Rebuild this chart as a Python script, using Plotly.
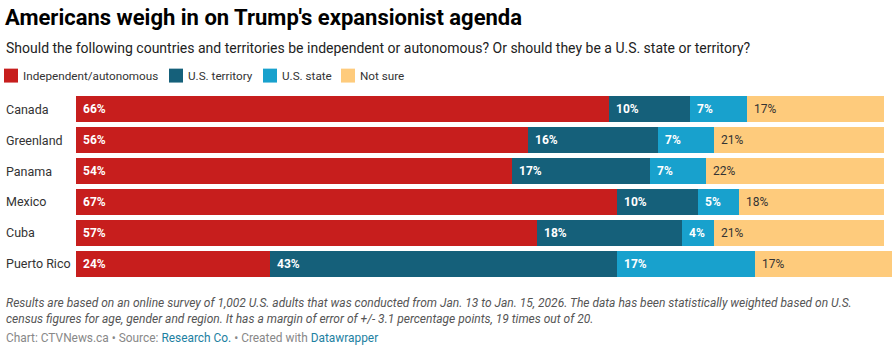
import plotly.graph_objects as go

countries = ["Canada", "Greenland", "Panama", "Mexico", "Cuba", "Puerto Rico"]
series_names = ["Independent/autonomous", "U.S. territory", "U.S. state", "Not sure"]
independent = [66, 56, 54, 67, 57, 24]
territory = [10, 16, 17, 10, 18, 43]
state = [7, 7, 7, 5, 4, 17]
not_sure = [17, 21, 22, 18, 21, 17]
series_values = [independent, territory, state, not_sure]

colors = ["#c71e1d", "#15607a", "#18a1cd", "#fecb7c"]
label_colors = ["#ffffff", "#ffffff", "#ffffff", "#333333"]
label_weights = ["bold", "bold", "bold", "normal"]

W, H = 894, 349
ML, MR, MT, MB = 76, 2, 93.5, 69.5
plot_h = H - MT - MB
plot_w = W - ML - MR

def py(px):
    return (H - MB - px) / plot_h

def pxx(px):
    return (px - ML) / plot_w

fig = go.Figure()
for name, vals, col in zip(series_names, series_values, colors):
    fig.add_trace(go.Bar(
        y=countries, x=vals, name=name, orientation="h",
        marker=dict(color=col, line=dict(width=0)),
        hoverinfo="x+name", showlegend=False,
    ))

annotations = []
# value labels
for i, c in enumerate(countries):
    start = 0
    for s, vals in enumerate(series_values):
        v = vals[i]
        annotations.append(dict(
            x=start, y=c, xref="x", yref="y", text=f"{v}%", showarrow=False,
            xanchor="left", yanchor="middle", xshift=5,
            font=dict(family="Roboto", size=12, color=label_colors[s], weight=label_weights[s]),
        ))
        start += v
    # category labels
    annotations.append(dict(
        x=pxx(4), y=c, xref="paper", yref="y", text=c, showarrow=False,
        xanchor="left", yanchor="middle",
        font=dict(family="Roboto", size=12.5, color="#333333"),
    ))

# title & subtitle
annotations.append(dict(x=pxx(3), y=py(17), xref="paper", yref="paper",
    text="<b>Americans weigh in on Trump's expansionist agenda</b>", showarrow=False,
    xanchor="left", yanchor="middle", font=dict(family="Roboto", size=22, color="#000000")))
annotations.append(dict(x=pxx(4), y=py(47), xref="paper", yref="paper",
    text="Should the following countries and territories be independent or autonomous? Or should they be a U.S. state or territory?",
    showarrow=False, xanchor="left", yanchor="middle",
    font=dict(family="Roboto", size=14, color="#222222")))

# legend
shapes = []
swatch_x = [4, 169, 263, 341]
for name, col, sx in zip(series_names, colors, swatch_x):
    shapes.append(dict(type="rect", xref="paper", yref="paper",
        x0=pxx(sx), x1=pxx(sx + 14), y0=py(82), y1=py(68),
        fillcolor=col, line=dict(width=0)))
    annotations.append(dict(x=pxx(sx + 16.5), y=py(75), xref="paper", yref="paper",
        text=name, showarrow=False, xanchor="left", yanchor="middle",
        font=dict(family="Roboto", size=11.7, color="#333333")))

# notes
annotations.append(dict(x=pxx(4), y=py(304), xref="paper", yref="paper",
    text="<i>Results are based on an online survey of 1,002 U.S. adults that was conducted from Jan. 13 to Jan. 15, 2026. The data has been statistically weighted based on U.S.</i>",
    showarrow=False, xanchor="left", yanchor="middle",
    font=dict(family="Roboto", size=12, color="#555555")))
annotations.append(dict(x=pxx(4), y=py(320), xref="paper", yref="paper",
    text="<i>census figures for age, gender and region. It has a margin of error of +/- 3.1 percentage points, 19 times out of 20.</i>",
    showarrow=False, xanchor="left", yanchor="middle",
    font=dict(family="Roboto", size=12, color="#555555")))
annotations.append(dict(x=pxx(4), y=py(339), xref="paper", yref="paper",
    text="Chart: CTVNews.ca • Source: <span style='color:#1d81a2'>Research Co.</span> • Created with <span style='color:#1d81a2'>Datawrapper</span>",
    showarrow=False, xanchor="left", yanchor="middle",
    font=dict(family="Roboto", size=11.9, color="#888888")))

fig.update_layout(
    barmode="stack", bargap=0.16,
    width=W, height=H,
    margin=dict(l=ML, r=MR, t=MT, b=MB, pad=0),
    paper_bgcolor="white", plot_bgcolor="white",
    xaxis=dict(range=[0, 101], visible=False, fixedrange=True),
    yaxis=dict(autorange="reversed", visible=False, fixedrange=True, categoryorder="array", categoryarray=countries),
    annotations=annotations, shapes=shapes,
    font=dict(family="Roboto"),
)

fig.write_html("out.html", config={"displayModeBar": False})
